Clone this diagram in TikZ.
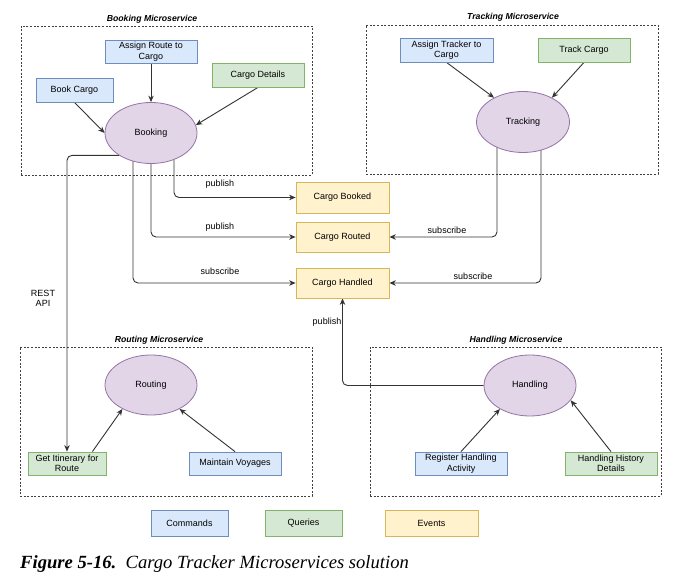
\documentclass[tikz,border=0pt]{standalone}
\usepackage{fontspec}
\setmainfont{Liberation Sans}
\newfontfamily\capfont{Liberation Serif}
\usetikzlibrary{arrows.meta,shapes.geometric,backgrounds}
\definecolor{cmdfill}{HTML}{DAE8FC}\definecolor{cmddraw}{HTML}{6C8EBF}
\definecolor{qryfill}{HTML}{D5E8D4}\definecolor{qrydraw}{HTML}{82B366}
\definecolor{evtfill}{HTML}{FFF2CC}\definecolor{evtdraw}{HTML}{D6B656}
\definecolor{svcfill}{HTML}{E1D5E7}\definecolor{svcdraw}{HTML}{9673A6}
\definecolor{linec}{HTML}{333333}
\begin{document}
\begin{tikzpicture}[x=1pt,y=-1pt,
  every node/.style={font=\fontsize{9}{10.5}\selectfont, inner sep=1pt, align=center},
  box/.style={rectangle, line width=0.8pt, minimum width=92pt, minimum height=24pt},
  cmd/.style={box, fill=cmdfill, draw=cmddraw},
  qry/.style={box, fill=qryfill, draw=qrydraw},
  evt/.style={box, fill=evtfill, draw=evtdraw, minimum width=93pt, minimum height=30pt},
  svc/.style={ellipse, fill=svcfill, draw=svcdraw, line width=0.8pt, minimum width=92pt, minimum height=61pt, inner sep=0pt},
  container/.style={rectangle, draw=black!75, line width=0.7pt, dash pattern=on 2pt off 1.6pt, inner sep=0pt},
  svctitle/.style={font=\fontsize{8.7}{10}\selectfont\bfseries\itshape},
  conn/.style={draw=linec, line width=0.9pt, rounded corners=5pt, -{Stealth[length=6.5pt,width=5.5pt]}},
  lbl/.style={font=\fontsize{9}{10.5}\selectfont}
]
\useasboundingbox (0,0) rectangle (686,577);

% containers
\node[container, minimum width=291pt, minimum height=149pt] (cbook) at (166.5,100.5) {};
\node[container, minimum width=292pt, minimum height=149pt] (ctrack) at (512,99.5) {};
\node[container, minimum width=292pt, minimum height=149pt] (croute) at (166,421.5) {};
\node[container, minimum width=291pt, minimum height=149pt] (chandle) at (515.5,421.5) {};
\node[svctitle] (tbook) at (152,19) {Booking Microservice};
\node[svctitle] (ttrack) at (513,17.5) {Tracking Microservice};
\node[svctitle] (troute) at (159,340) {Routing Microservice};
\node[svctitle] (thandle) at (516,340) {Handling Microservice};

% booking
\node[cmd, minimum width=77pt] (bookcargo) at (74.5,90) {Book Cargo};
\node[cmd, minimum height=23pt] (assignroute) at (151,51.5) {Assign Route to\\Cargo};
\node[qry] (cargodetails) at (258,75) {Cargo Details};
\node[svc] (booking) at (151,133) {Booking};

% tracking
\node[cmd, minimum width=93pt] (assigntracker) at (446.5,50) {Assign Tracker to\\Cargo};
\node[qry] (trackcargo) at (584,50) {Track Cargo};
\node[svc, minimum width=93pt] (tracking) at (523,122) {Tracking};

% events
\node[evt, minimum height=31pt] (cargobooked) at (342.5,197.5) {Cargo Booked};
\node[evt] (cargorouted) at (342.5,237) {Cargo Routed};
\node[evt] (cargohandled) at (342.5,283) {Cargo Handled};

% routing
\node[svc, minimum height=60pt] (routing) at (151,385) {Routing};
\node[qry, minimum width=78pt, minimum height=23pt] (getitin) at (67,463.5) {Get Itinerary for\\Route};
\node[cmd, minimum height=23pt] (maintain) at (235,463.5) {Maintain Voyages};

% handling
\node[svc] (handling) at (530,385.5) {Handling};
\node[cmd, minimum height=23pt] (register) at (461,463.5) {Register Handling\\Activity};
\node[qry, minimum height=23pt] (history) at (611,463.5) {Handling History\\Details};

% legend
\node[cmd, minimum width=77pt, minimum height=26pt] (lcmd) at (189.5,523) {Commands};
\node[qry, minimum width=77pt, minimum height=26pt] (lqry) at (303.5,523) {Queries};
\node[evt, minimum height=26pt] (levt) at (431.5,523) {Events};

% labels
\node[lbl] (l1) at (220,184) {publish};
\node[lbl] (l2) at (220,227) {publish};
\node[lbl] (l3) at (220,271) {subscribe};
\node[lbl] (l4) at (447,230) {subscribe};
\node[lbl] (l5) at (473,276) {subscribe};
\node[lbl] (l6) at (327,322) {publish};
\node[lbl] (lrest) at (43,298.5) {REST\\API};

% caption
\node[anchor=base west, inner sep=0pt, font=\capfont\fontsize{18.6}{20}\selectfont] (caption) at (20,568)
  {\textbf{\textit{Figure 5-16.}}\ \ \textit{Cargo Tracker Microservices solution}};

\begin{pgfonlayer}{background}
\fill[white] (0,0) rectangle (686,577);
\draw[conn] (bookcargo.south) -- (booking.west);
\draw[conn] (assignroute.south) -- (booking.north);
\draw[conn] (cargodetails.south) -- (booking.10);
\draw[conn] (assigntracker.south) -- (tracking.140);
\draw[conn] (trackcargo.south) -- (tracking.40);
\draw[conn] ([xshift=-14pt]getitin.north east) -- (routing.220);
\draw[conn] (maintain.north) -- (routing.320);
\draw[conn] (register.north) -- (handling.218);
\draw[conn] (history.north) -- (handling.340);
\draw[conn] (booking.215) -| (getitin.north);
\draw[conn] ([xshift=23pt]booking.center) |- (cargobooked.west);
\draw[conn] (booking.center) |- (cargorouted.west);
\draw[conn] ([xshift=-18pt]booking.center) |- (cargohandled.west);
\draw[conn] ([xshift=-26pt]tracking.center) |- (cargorouted.east);
\draw[conn] ([xshift=18pt]tracking.center) |- (cargohandled.east);
\draw[conn] (handling.west) -| (cargohandled.south);
\end{pgfonlayer}
\end{tikzpicture}
\end{document}
